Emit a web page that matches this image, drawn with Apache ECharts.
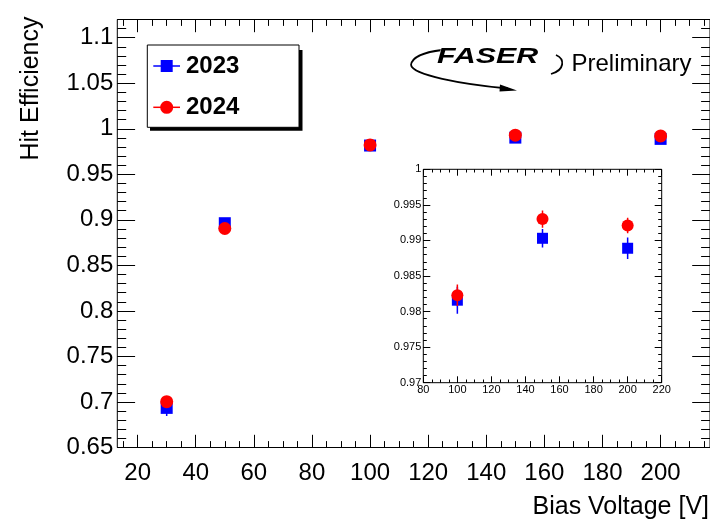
<!DOCTYPE html>
<html>
<head>
<meta charset="utf-8">
<title>Hit Efficiency vs Bias Voltage</title>
<script src="https://cdn.jsdelivr.net/npm/echarts@6/dist/echarts.min.js"></script>
<style>
  html, body { margin: 0; padding: 0; background: #fff; }
  #chart { width: 710px; height: 522px; }
</style>
</head>
<body>
<div id="chart"></div>
<script>
// values
const voltages = [30, 50, 100, 150, 200]
const years = ['2023', '2024']
const eff2023 = [0.6935, 0.8963, 0.9816, 0.9903, 0.9889]
const err2023 = [0.009, 0.004, 0.0019, 0.0013, 0.0015]
const eff2024 = [0.7003, 0.8905, 0.9823, 0.993, 0.9921]
const err2024 = [0.005, 0.004, 0.0015, 0.0012, 0.0011]

// tick labels
const mainXLabels = [20, 40, 60, 80, 100, 120, 140, 160, 180, 200]
const mainYLabels = [0.65, 0.7, 0.75, 0.8, 0.85, 0.9, 0.95, 1, 1.05, 1.1]
const insetXLabels = [80, 100, 120, 140, 160, 180, 200, 220]
const insetYLabels = [0.97, 0.975, 0.98, 0.985, 0.99, 0.995, 1]

const FONT = '"Liberation Sans", Arial, Helvetica, sans-serif'
const BLUE = '#0000ff'
const RED = '#ff0000'

// integer stepping so minor ticks don't pick up float noise
function steps(from, to, step, scale) {
  const out = []
  for (let v = from; v <= to; v += step) out.push(v / scale)
  return out
}

// ROOT-style frame: ticks inside on all four sides, labels only bottom/left
function axisSet(dim, gridIndex, min, max, major, minor, tickLen, label) {
  const sides = dim === 'x' ? ['bottom', 'top'] : ['left', 'right']
  const axes = []
  sides.forEach((pos, s) => {
    ;[[major, tickLen[0]], [minor, tickLen[1]]].forEach(([vals, len], k) => {
      axes.push({
        type: 'value',
        gridIndex,
        position: pos,
        min,
        max,
        axisLine: { show: false },
        splitLine: { show: false },
        axisTick: {
          show: true,
          inside: true,
          length: len,
          customValues: vals,
          lineStyle: { color: '#000', width: 1 },
        },
        axisLabel:
          s === 0 && k === 0
            ? Object.assign({ show: true, customValues: major, color: '#000', fontFamily: FONT }, label)
            : { show: false },
      })
    })
  })
  return axes
}

function errSeries(vals, errs, color, xi, yi, z) {
  return {
    type: 'custom',
    xAxisIndex: xi,
    yAxisIndex: yi,
    clip: true,
    silent: true,
    z,
    data: voltages.map((v, i) => [v, vals[i], errs[i]]),
    renderItem(params, api) {
      const x = api.value(0)
      const y = api.value(1)
      const e = api.value(2)
      const lo = api.coord([x, y - e])
      const hi = api.coord([x, y + e])
      return {
        type: 'line',
        shape: { x1: lo[0], y1: lo[1], x2: hi[0], y2: hi[1] },
        style: { stroke: color, lineWidth: 1.5 },
      }
    },
  }
}

function pointSeries(name, vals, symbol, size, color, xi, yi, z) {
  return {
    name,
    type: 'scatter',
    xAxisIndex: xi,
    yAxisIndex: yi,
    symbol,
    symbolSize: size,
    clip: true,
    silent: true,
    z,
    itemStyle: { color, opacity: 1 },
    data: voltages.map((v, i) => [v, vals[i]]),
  }
}

const chart = echarts.init(document.getElementById('chart'), null, { renderer: 'canvas' })

const xAxes = [
  ...axisSet('x', 0, 13, 217, mainXLabels, steps(15, 215, 5, 1), [12.7, 6.4], { fontSize: 24, margin: 14 }),
  ...axisSet('x', 1, 80, 220, insetXLabels, steps(80, 220, 5, 1), [6.4, 3.2], { fontSize: 11, margin: 2 }),
]
const yAxes = [
  ...axisSet('y', 0, 0.65, 1.12, mainYLabels, steps(65, 112, 1, 100), [17.8, 8.9], { fontSize: 24, margin: 4 }),
  ...axisSet('y', 1, 0.97, 1, insetYLabels, steps(970, 1000, 1, 1000), [7, 3.5], { fontSize: 11, margin: 2 }),
]

chart.setOption({
  animation: false,
  backgroundColor: '#fff',
  grid: [
    { left: 117.3, top: 19.5, width: 598.5, height: 428, show: true, borderColor: '#000', borderWidth: 1, backgroundColor: 'transparent' },
    { left: 423.3, top: 169.3, width: 238.4, height: 213.4, show: true, borderColor: '#000', borderWidth: 1, backgroundColor: '#fff' },
  ],
  xAxis: xAxes,
  yAxis: yAxes,
  series: [
    errSeries(eff2023, err2023, BLUE, 0, 0, 2),
    pointSeries(years[0], eff2023, 'rect', 12, BLUE, 0, 0, 3),
    errSeries(eff2024, err2024, RED, 0, 0, 4),
    pointSeries(years[1], eff2024, 'circle', 13, RED, 0, 0, 5),
    // inset, zoomed on the high-voltage points
    errSeries(eff2023, err2023, BLUE, 4, 4, 6),
    pointSeries(years[0], eff2023, 'rect', 11, BLUE, 4, 4, 7),
    errSeries(eff2024, err2024, RED, 4, 4, 8),
    pointSeries(years[1], eff2024, 'circle', 12, RED, 4, 4, 9),
  ],
  graphic: [
    // axis titles
    {
      type: 'text', x: 31, y: 16.5, rotation: Math.PI / 2, silent: true,
      style: { text: 'Hit Efficiency', font: '25px ' + FONT, fill: '#000', align: 'right', verticalAlign: 'middle' },
    },
    {
      type: 'text', x: 709, y: 507.5, silent: true,
      style: { text: 'Bias Voltage [V]', font: '25px ' + FONT, fill: '#000', align: 'right', verticalAlign: 'middle' },
    },
    // legend box with hard shadow
    { type: 'rect', silent: true, shape: { x: 150, y: 50, width: 152.5, height: 80.7 }, style: { fill: '#000' }, z: 20 },
    { type: 'rect', silent: true, shape: { x: 147.3, y: 45, width: 151.7, height: 82.3 }, style: { fill: '#fff', stroke: '#000', lineWidth: 1 }, z: 21 },
    { type: 'line', silent: true, shape: { x1: 153.3, y1: 66, x2: 180, y2: 66 }, style: { stroke: BLUE, lineWidth: 1.5 }, z: 22 },
    { type: 'rect', silent: true, shape: { x: 160.7, y: 60, width: 12, height: 12 }, style: { fill: BLUE }, z: 23 },
    { type: 'text', silent: true, x: 186, y: 66, style: { text: years[0], font: 'bold 24px ' + FONT, fill: '#000', verticalAlign: 'middle' }, z: 23 },
    { type: 'line', silent: true, shape: { x1: 153.3, y1: 107.3, x2: 180, y2: 107.3 }, style: { stroke: RED, lineWidth: 1.5 }, z: 22 },
    { type: 'circle', silent: true, shape: { cx: 166.7, cy: 107.3, r: 6.5 }, style: { fill: RED }, z: 23 },
    { type: 'text', silent: true, x: 186, y: 107.3, style: { text: years[1], font: 'bold 24px ' + FONT, fill: '#000', verticalAlign: 'middle' }, z: 23 },
    // FASER logo: swoosh + lettering
    {
      type: 'bezierCurve', silent: true,
      shape: { x1: 411, y1: 65, cpx1: 412, cpy1: 57, cpx2: 425, cpy2: 52, x2: 442, y2: 50 },
      style: { stroke: '#000', lineWidth: 1.8, fill: null },
    },
    {
      type: 'bezierCurve', silent: true,
      shape: { x1: 411, y1: 65, cpx1: 413, cpy1: 75, cpx2: 460, cpy2: 84, x2: 508, y2: 88.5 },
      style: { stroke: '#000', lineWidth: 1.8, fill: null },
    },
    {
      type: 'polygon', silent: true,
      shape: { points: [[517, 90.5], [500, 84.5], [499.5, 91.5]] },
      style: { fill: '#000' },
    },
    {
      type: 'bezierCurve', silent: true,
      shape: { x1: 556, y1: 55, cpx1: 565, cpy1: 59, cpx2: 565, cpy2: 70, x2: 551, y2: 74 },
      style: { stroke: '#000', lineWidth: 1.8, fill: null },
    },
    {
      type: 'text', silent: true, x: 437, y: 56.5, scaleX: 1.38,
      style: { text: 'FASER', font: 'italic bold 22px ' + FONT, fill: '#000', stroke: '#fff', lineWidth: 0.6, verticalAlign: 'middle' },
      z: 5,
    },
    {
      type: 'text', silent: true, x: 571.5, y: 64,
      style: { text: 'Preliminary', font: '24px ' + FONT, fill: '#000', verticalAlign: 'middle' },
    },
  ],
})
</script>
</body>
</html>
